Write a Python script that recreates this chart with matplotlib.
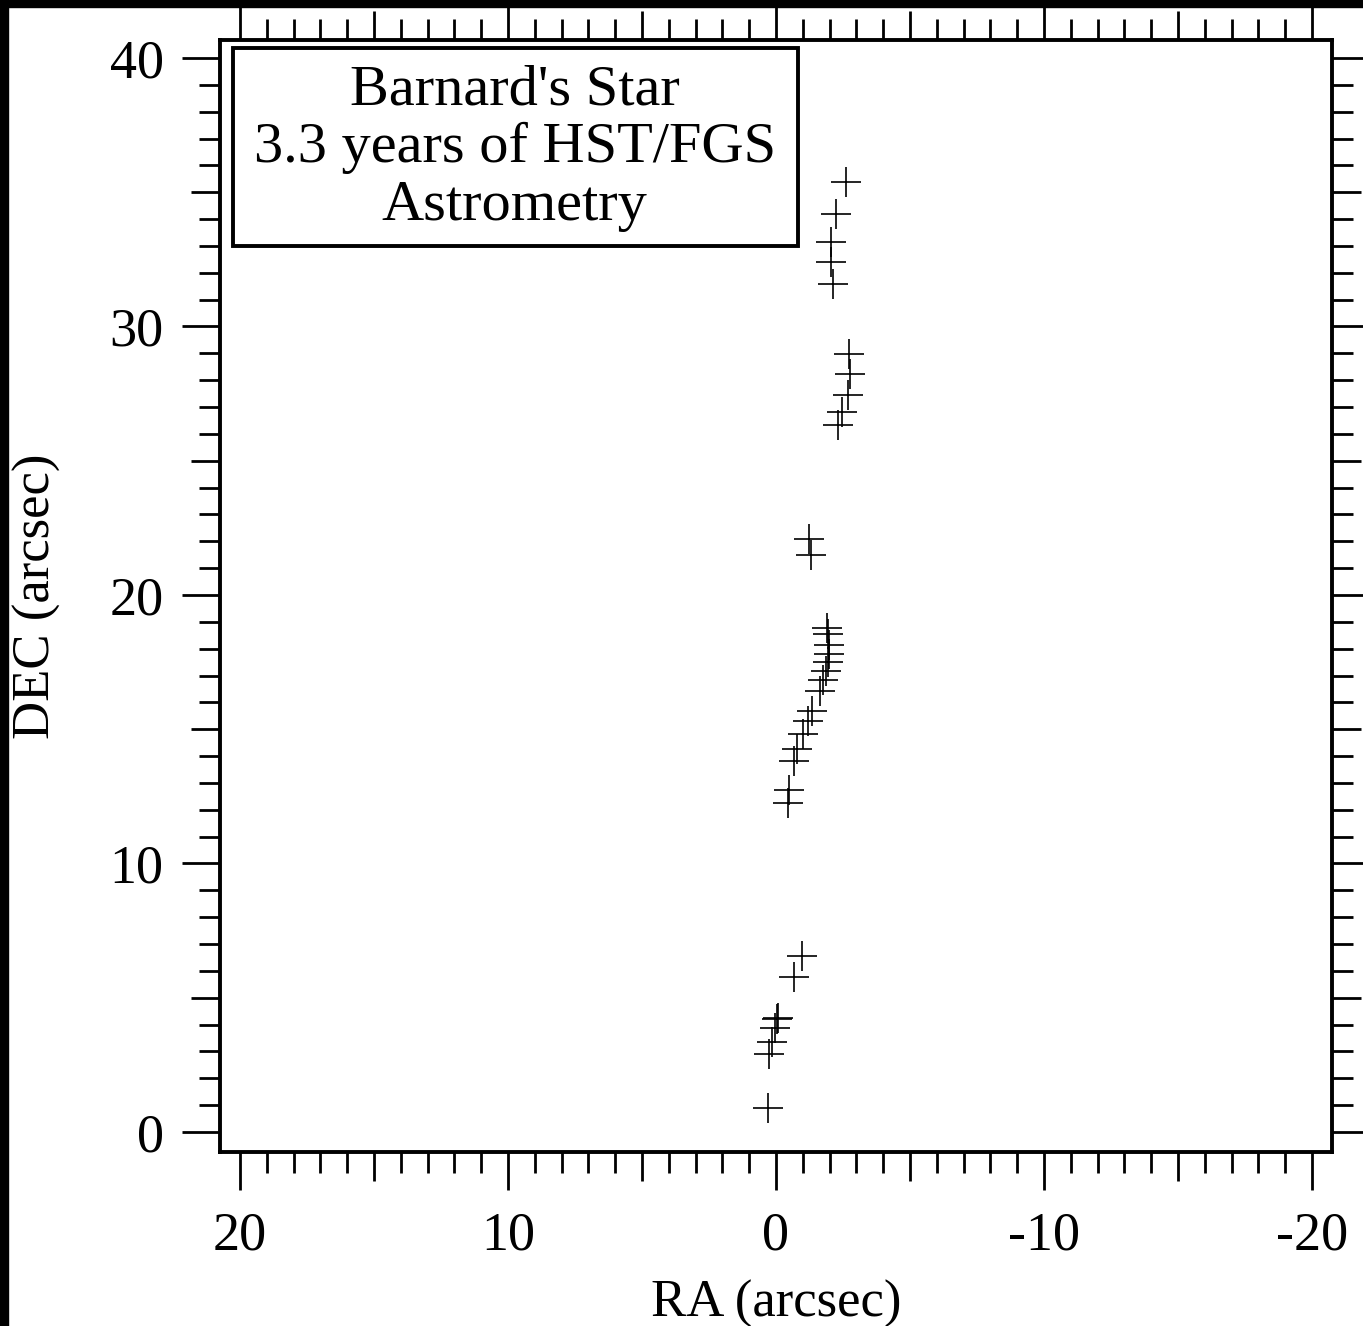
#!/usr/bin/env python3

import matplotlib
matplotlib.use('Agg')

import matplotlib.pyplot as plt
from matplotlib.patches import Rectangle
from matplotlib.ticker import MultipleLocator
import numpy as np

plt.rcParams['font.family'] = ['Liberation Serif', 'DejaVu Serif']
plt.rcParams['axes.unicode_minus'] = False

# positions of Barnard's star, arcsec
ra = [-2.60, -2.23, -2.05, -2.04, -2.12, -2.71, -2.76, -2.68, -2.47, -2.31,
      -1.23, -1.29, -1.89, -1.94, -1.97, -1.97, -1.93, -1.86, -1.76, -1.65,
      -1.34, -1.18, -1.01, -0.80, -0.68, -0.47, -0.44, -0.97, -0.67, -0.08,
      -0.02, 0.04, 0.16, 0.27, 0.31]
dec = [35.37, 34.18, 33.16, 32.40, 31.57, 28.97, 28.22, 27.46, 26.80, 26.33,
       22.07, 21.48, 18.78, 18.56, 18.14, 17.81, 17.52, 17.16, 16.82, 16.44,
       15.68, 15.31, 14.81, 14.27, 13.81, 12.73, 12.26, 6.57, 5.76, 4.23,
       4.21, 3.86, 3.35, 2.89, 0.88]

x_ticks = [20, 15, 10, 5, 0, -5, -10, -15, -20]
y_ticks = [0, 5, 10, 15, 20, 25, 30, 35, 40]
title_lines = ["Barnard's Star", '3.3 years of HST/FGS', 'Astrometry']

W, H = 1363, 1326
fig = plt.figure(figsize=(W/100, H/100), dpi=100)
ax = fig.add_axes([220/W, 1 - 1152/H, 1112/W, 1112/H])

ax.plot(ra, dec, linestyle='none', marker='+', color='black', ms=21.5, mew=1.2)

ax.set_xlim(20.75, -20.75)
ax.set_ylim(-0.745, 40.67)

for s in ax.spines.values():
	s.set_linewidth(2.8)

ax.set_xticks(x_ticks)
ax.set_xticklabels([str(v) if v % 10 == 0 else '' for v in x_ticks])
ax.set_yticks(y_ticks)
ax.set_yticklabels([str(v) if v % 10 == 0 else '' for v in y_ticks])
ax.xaxis.set_minor_locator(MultipleLocator(1))
ax.yaxis.set_minor_locator(MultipleLocator(1))

ax.tick_params(which='both', direction='out', top=True, right=True, width=2.0,
               labelsize=39, color='black')
ax.tick_params(which='major', length=27.5)
ax.tick_params(which='minor', length=15)
ax.tick_params(axis='x', which='major', pad=15)
ax.tick_params(axis='y', which='major', pad=13)

# medium ticks at the fives
for axis, vals in [(ax.xaxis, x_ticks), (ax.yaxis, y_ticks)]:
	for tick, v in zip(axis.get_major_ticks(), vals):
		if v % 10:
			tick.tick1line.set_markersize(21)
			tick.tick2line.set_markersize(21)

ax.set_xlabel('RA (arcsec)', fontsize=38)
ax.set_ylabel('DEC (arcsec)', fontsize=38)
ax.xaxis.set_label_coords(0.5, -0.115)
ax.yaxis.set_label_coords(-0.143, 0.5)

ax.add_patch(Rectangle((13/1112, 1 - 246/1112 + 40/1112), 565/1112, 198/1112,
                       transform=ax.transAxes, fill=False, lw=2.8, color='black'))
ax.text(0.265, 1 - 108/1112, '\n'.join(title_lines), transform=ax.transAxes,
        ha='center', va='center', fontsize=42, linespacing=1.14)

# black frame strips on the left and top edges
fig.add_artist(Rectangle((0, 0), 8/W, 1, transform=fig.transFigure, color='black', zorder=10))
fig.add_artist(Rectangle((0, 1 - 7/H), 1, 7/H, transform=fig.transFigure, color='black', zorder=10))

fig.savefig('out.png', dpi=100)
